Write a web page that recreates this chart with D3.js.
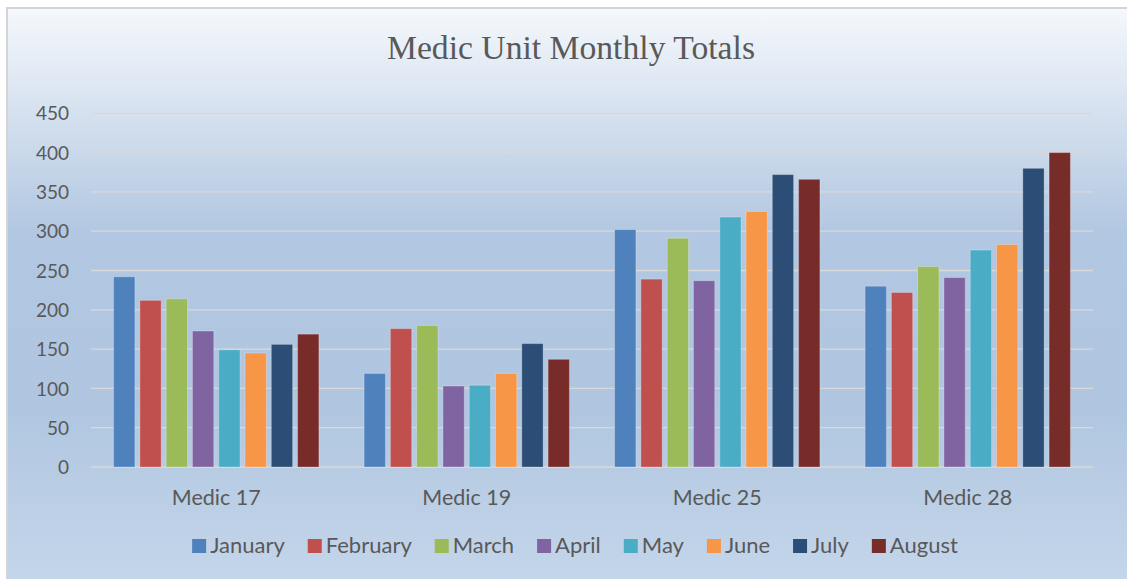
<!DOCTYPE html>
<html>
<head>
<meta charset="utf-8">
<script src="https://cdn.jsdelivr.net/npm/d3@7"></script>
<style>
  html, body { margin: 0; padding: 0; background: #ffffff; }
  svg { display: block; }
</style>
</head>
<body>
<svg id="chart" width="1127" height="579"></svg>
<script>
const title = "Medic Unit Monthly Totals";
const categories = ["Medic 17", "Medic 19", "Medic 25", "Medic 28"];
const months = ["January", "February", "March", "April", "May", "June", "July", "August"];
const january  = [242, 119, 302, 230];
const february = [212, 176, 239, 222];
const march    = [214, 180, 291, 255];
const april    = [173, 103, 237, 241];
const may      = [149, 104, 318, 276];
const june     = [145, 119, 325, 283];
const july     = [156, 157, 372, 380];
const august   = [169, 137, 366, 400];
const yTicks = [0, 50, 100, 150, 200, 250, 300, 350, 400, 450];
const colors = ["#4f81bd", "#c0504d", "#9bbb59", "#8064a2", "#4bacc6", "#f79646", "#2c4d75", "#772c2a"];

const seriesValues = [january, february, march, april, may, june, july, august];
const rows = categories.map((c, i) => ({
  cat: c,
  vals: months.map((m, j) => ({ month: m, value: seriesValues[j][i], color: colors[j] }))
}));

const svg = d3.select("#chart");
const W = 1127, H = 579;
const textFont = "Lato, 'Open Sans', sans-serif";
const textColor = "#595959";

// background gradient
const defs = svg.append("defs");
const grad = defs.append("linearGradient").attr("id", "bg").attr("x1", 0).attr("y1", 0).attr("x2", 0).attr("y2", 1);
grad.append("stop").attr("offset", "0%").attr("stop-color", "#f5f8fc");
grad.append("stop").attr("offset", "38%").attr("stop-color", "#b2c7e1");
grad.append("stop").attr("offset", "68%").attr("stop-color", "#b0c6e0");
grad.append("stop").attr("offset", "100%").attr("stop-color", "#c6d7eb");

svg.append("rect").attr("x", 7).attr("y", 8).attr("width", W + 10).attr("height", H + 10)
  .attr("fill", "url(#bg)").attr("stroke", "#d4d4d4").attr("stroke-width", 2);

// title
svg.append("text")
  .attr("x", 571).attr("y", 59)
  .attr("text-anchor", "middle")
  .attr("font-family", "'Liberation Serif', 'DejaVu Serif', serif")
  .attr("font-size", 33)
  .attr("fill", textColor)
  .attr("textLength", 368)
  .attr("lengthAdjust", "spacingAndGlyphs")
  .text(title);

// scales
const plotLeft = 91, plotRight = 1093, plotTop = 113.3, plotBottom = 467;
const x0 = d3.scaleBand().domain(categories).range([plotLeft, plotRight]).padding(0);
const x1 = d3.scaleBand().domain(months).range([0, x0.bandwidth()]).paddingInner(0.19).paddingOuter(0.86);
const y = d3.scaleLinear().domain([0, 450]).range([plotBottom, plotTop]);

// gridlines
svg.append("g").selectAll("line").data(yTicks).join("line")
  .attr("x1", plotLeft).attr("x2", plotRight)
  .attr("y1", d => y(d)).attr("y2", d => y(d))
  .attr("stroke", "#d9d9d9").attr("stroke-width", 1.3);

// y axis labels
const yAxis = d3.axisLeft(y).tickValues(yTicks).tickSize(0).tickPadding(0);
const gy = svg.append("g").attr("transform", "translate(69,0)").call(yAxis);
gy.select(".domain").remove();
gy.selectAll("text").attr("font-family", textFont).attr("font-size", 19).attr("fill", textColor).attr("dy", "0.35em");

// x axis labels
const xAxis = d3.axisBottom(x0).tickSize(0).tickPadding(0);
const gx = svg.append("g").attr("transform", `translate(0,${plotBottom})`).call(xAxis);
gx.select(".domain").remove();
gx.selectAll("text").attr("font-family", textFont).attr("font-size", 21.5).attr("fill", textColor).attr("dy", 0).attr("y", 38);

// bars
const groups = svg.append("g").selectAll("g").data(rows).join("g")
  .attr("transform", d => `translate(${x0(d.cat)},0)`);
groups.selectAll("rect").data(d => d.vals).join("rect")
  .attr("x", d => x1(d.month))
  .attr("width", x1.bandwidth())
  .attr("y", d => y(d.value))
  .attr("height", d => y(0) - y(d.value))
  .attr("fill", d => d.color)
  .attr("stroke", "rgba(255,255,255,0.25)")
  .attr("stroke-width", 1);

// legend
const legend = svg.append("g");
const items = legend.selectAll("g").data(months).join("g");
items.append("rect").attr("width", 14).attr("height", 14).attr("y", -14)
  .attr("fill", (d, i) => colors[i]);
items.append("text").attr("x", 18).attr("y", 0)
  .attr("font-family", textFont).attr("font-size", 22).attr("fill", textColor)
  .text(d => d);
let cx = 0;
const gap = 23;
items.each(function () {
  const g = d3.select(this);
  g.attr("transform", `translate(${cx},0)`);
  const w = 18 + g.select("text").node().getComputedTextLength();
  cx += w + gap;
});
const totalW = cx - gap;
legend.attr("transform", `translate(${575 - totalW / 2},553)`);
</script>
</body>
</html>
